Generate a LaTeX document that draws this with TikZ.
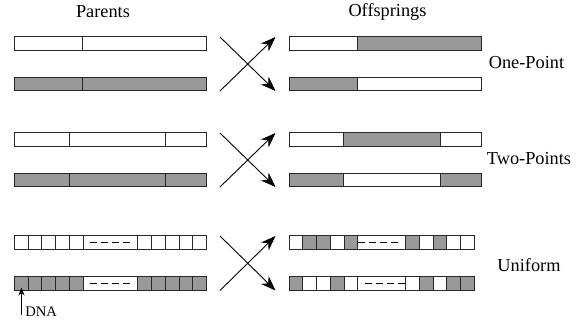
\documentclass[tikz,border=0pt]{standalone}
\usepackage{fontspec}
\setmainfont{Liberation Serif}
\usetikzlibrary{arrows.meta}
\definecolor{genegray}{RGB}{153,153,153}
\definecolor{edgegray}{RGB}{40,40,40}
\tikzset{
  wcell/.style={draw=edgegray,line width=0.5pt,fill=white},
  gcell/.style={draw=edgegray,line width=0.5pt,fill=genegray},
  cross/.style={line width=0.45pt,-{Stealth[length=7.5pt,width=5.5pt]}},
  lbl/.style={font=\fontsize{9.15}{11}\selectfont,inner sep=0pt},
  dashline/.style={line width=0.5pt,dash pattern=on 3.5pt off 2pt},
}
\begin{document}
\begin{tikzpicture}[x=0.5pt,y=-0.5pt]
\useasboundingbox (0,0) rectangle (586,325);
% titles
\node[lbl] (parents) at (103,12) {Parents};
\node[lbl] (offs) at (387.5,12) {Offsprings};
\node[lbl] (onep) at (526.5,63) {One-Point};
\node[lbl] (twop) at (529,158.5) {Two-Points};
\node[lbl] (unif) at (529,265) {Uniform};
% ---- row 1 : one point ----
\path[wcell] (14.3,37) rectangle (83,50.5);
\path[wcell] (83,37) rectangle (206.7,50.5);
\path[gcell] (14.3,77.5) rectangle (83,91);
\path[gcell] (83,77.5) rectangle (206.7,91);
\path[wcell] (289.3,37) rectangle (357.7,50.5);
\path[gcell] (357.7,37) rectangle (481.7,50.5);
\path[gcell] (289.3,77.5) rectangle (357.7,91);
\path[wcell] (357.7,77.5) rectangle (481.7,91);
% ---- row 2 : two points ----
\path[wcell] (14.3,133) rectangle (69.3,146.5);
\path[wcell] (69.3,133) rectangle (165.7,146.5);
\path[wcell] (165.7,133) rectangle (206.7,146.5);
\path[gcell] (14.3,173.5) rectangle (69.3,187);
\path[gcell] (69.3,173.5) rectangle (165.7,187);
\path[gcell] (165.7,173.5) rectangle (206.7,187);
\path[wcell] (289.3,133) rectangle (344,146.5);
\path[gcell] (344,133) rectangle (440.3,146.5);
\path[wcell] (440.3,133) rectangle (481.7,146.5);
\path[gcell] (289.3,173.5) rectangle (344,187);
\path[wcell] (344,173.5) rectangle (440.3,187);
\path[gcell] (440.3,173.5) rectangle (481.7,187);
% ---- row 3 : uniform ----
% parents
\foreach \i in {0,...,4}{
  \path[wcell] ({14.3+13.8*\i},236) rectangle ({14.3+13.8*(\i+1)},249.5);
  \path[gcell] ({14.3+13.8*\i},277) rectangle ({14.3+13.8*(\i+1)},290.5);
  \path[wcell] ({138+13.74*\i},236) rectangle ({138+13.74*(\i+1)},249.5);
  \path[gcell] ({138+13.74*\i},277) rectangle ({138+13.74*(\i+1)},290.5);
}
\path[wcell] (83.3,236) rectangle (138,249.5);
\path[wcell] (83.3,277) rectangle (138,290.5);
\draw[dashline] (90,242.75) -- (133,242.75);
\draw[dashline] (90,283.75) -- (133,283.75);
% offspring
\foreach \i/\ta/\tb in {0/wcell/gcell,1/gcell/wcell,2/gcell/wcell,3/wcell/gcell,4/gcell/wcell}{
  \path[\ta] ({289.3+13.68*\i},236) rectangle ({289.3+13.68*(\i+1)},249.5);
  \path[\tb] ({289.3+13.68*\i},277) rectangle ({289.3+13.68*(\i+1)},290.5);
}
\foreach \i/\ta/\tb in {0/gcell/wcell,1/wcell/gcell,2/gcell/wcell,3/wcell/gcell,4/wcell/gcell}{
  \path[\ta] ({406+13.66*\i},236) rectangle ({406+13.66*(\i+1)},249.5);
  \path[\tb] ({406+13.66*\i},277) rectangle ({406+13.66*(\i+1)},290.5);
}
\path[wcell] (357.7,236) rectangle (406,249.5);
\path[wcell] (357.7,277) rectangle (406,290.5);
\draw[dashline] (358,242.75) -- (400,242.75);
\draw[dashline] (365,283.75) -- (406,283.75);
% ---- crossing arrows ----
\foreach \r/\ya/\yb in {a/37/91,b/133/187,c/236/290.5}{
  \coordinate (tl\r) at (220,\ya);
  \coordinate (bl\r) at (220,\yb);
  \coordinate (tr\r) at (275.5,\ya);
  \coordinate (br\r) at (275.5,\yb);
  \draw[cross] (tl\r) -- (br\r);
  \draw[cross] (bl\r) -- (tr\r);
}
% ---- DNA pointer ----
\node[font=\fontsize{7.3}{8}\selectfont,inner sep=0pt,anchor=west] (dna) at (25,311.7) {DNA};
\coordinate (dnatail) at (21.5,315);
\coordinate (dnahead) at (21.5,287.5);
\draw[line width=0.45pt,-{Stealth[length=4pt,width=3pt]}] (dnatail) -- (dnahead);
\end{tikzpicture}
\end{document}
